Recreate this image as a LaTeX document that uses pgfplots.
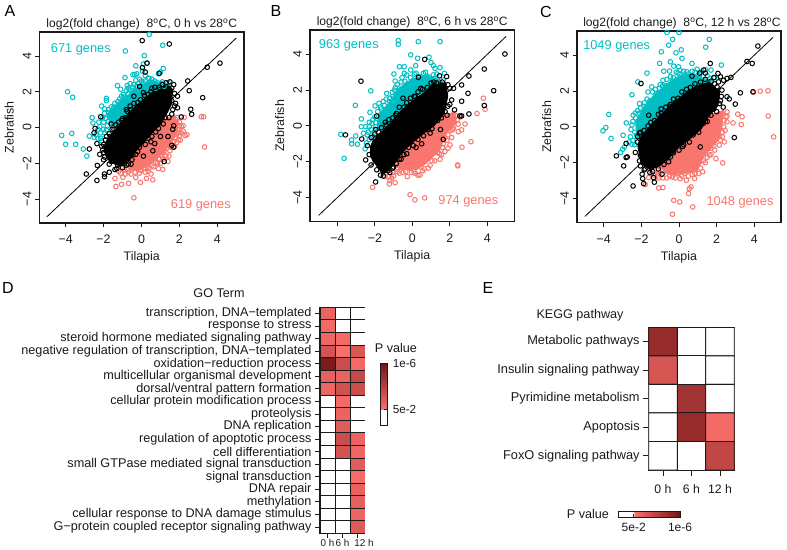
\documentclass[border=0pt]{standalone}
\usepackage{fontspec}
\setmainfont{Liberation Sans}
\usepackage{pgfplots}
\pgfplotsset{compat=1.18}
\definecolor{teal2}{HTML}{00BFC4}
\definecolor{salm}{HTML}{F8766D}
\definecolor{salm2}{HTML}{FA6E6A}
\definecolor{ink}{HTML}{1A1A1A}
\tikzset{gt/.style={font=\fontsize{12.8}{14}\selectfont},
  tx/.style={font=\fontsize{12.6}{14}\selectfont,text=ink},
  pl/.style={font=\fontsize{16}{18}\selectfont,text=black}}
\pgfplotsset{
  fc/.style={
    scale only axis, axis line style={ink,line width=1.1pt},
    tick style={ink,line width=0.9pt}, tick align=outside, major tick length=4.5pt,
    xtick={-4,-2,0,2,4}, ytick={-4,-2,0,2,4},
    xticklabels={−4,−2,0,2,4}, yticklabels={−4,−2,0,2,4},
    xtick pos=bottom, ytick pos=left,
    tick label style={font=\fontsize{12.4}{14}\selectfont,text=ink},
    xticklabel style={yshift=-4pt},
    yticklabel style={rotate=90,anchor=south,yshift=0pt},
    xlabel=Tilapia, ylabel=Zebrafish,
    label style={font=\fontsize{12.4}{14}\selectfont,text=ink},
    xlabel style={yshift=-1pt}, ylabel style={yshift=2pt},
    title style={font=\fontsize{12.1}{14}\selectfont,text=ink,yshift=-7.5pt},
    clip=true,
  },
  tm/.style={only marks,mark=o,mark size=2.3pt,mark options={line width=1pt},color=teal2},
  sm/.style={only marks,mark=o,mark size=2.3pt,mark options={line width=1pt},color=salm},
  bm/.style={only marks,mark=o,mark size=2.3pt,mark options={line width=1pt},color=black},
  core/.style={line width=3pt,line join=round},
  hm/.style={
    scale only axis, axis line style={ink,line width=1pt},
    tick style={ink,line width=0.9pt}, tick align=outside,
    xtick pos=bottom, ytick pos=left, y dir=reverse,
    xtick={0,1,2},
    xmin=-0.5, xmax=2.5,
    point meta min=0, point meta max=1, colormap name=pval,
    tick label style={text=ink},
  },
  colormap={pval}{[1cm] color(0cm)=(white); color(25cm)=(white); color(26cm)=(salm2); rgb255(100cm)=(115,20,22)},
}
\begin{document}
\begin{tikzpicture}[x=1pt,y=1pt]
\path[use as bounding box] (0,0) rectangle (787,549);

% panel A
\begin{axis}[fc, at={(39.5pt,326pt)}, anchor=south west, width=204.5pt, height=191pt,
  xmin=-5.38, xmax=5.41, ymin=-5.34, ymax=5.34,
  title={log2(fold change)\ \ 8\textsuperscript{o}C, 0 h vs 28\textsuperscript{o}C}]
\addplot[fill=teal2,draw=teal2] coordinates {(-1.57,0.14)(-1.84,0.7)(-1.31,1.26)(-0.69,1.82)(-0.08,2.38)(0.62,2.66)(1.15,2.38)(1.3,1.5)(0,0)} --cycle;
\addplot[fill=salm,draw=salm] coordinates {(1.77,0.7)(1.94,-0.05)(1.68,-0.7)(1.15,-1.45)(0.54,-2.0)(-0.08,-2.38)(-0.61,-2.38)(-0.69,-1.82)(0,0)} --cycle;
\addplot[tm] coordinates {(-4.21,-0.44)(-3.68,-0.33)(-4.0,-0.94)(-3.47,-0.94)(-3.07,-1.2)(-2.88,-1.6)(-2.75,-0.48)(-2.5,-0.55)(-2.6,0.55)(-2.56,0.25)(-3.9,2.0)(-3.63,1.69)(-2.1,1.2)(-1.95,1.05)(-1.85,1.63)(-1.85,1.5)(-1.75,1.0)(-1.27,2.34)(-1.1,2.14)(-0.87,2.79)(-0.85,4.28)(0.41,5.2)(1.12,4.6)(0.15,4.02)(0.1,3.55)(0.3,3.6)(-0.3,3.45)(-0.45,2.95)(-0.35,2.95)(-0.25,3.0)(0.05,3.15)(0.2,2.9)(0.4,2.75)(0.55,2.7)(1.0,3.1)(1.15,3.3)(0.9,3.0)(-0.7,2.2)(-0.6,2.45)(-0.4,2.4)(-0.3,2.65)(-0.1,2.7)(0.1,2.5)(0.3,2.35)(0.6,2.4)(0.75,2.2)(1.1,2.55)(1.4,2.5)(1.2,2.3)(-2.3,-0.1)(-2.2,0.05)(-2.4,-0.4)(-2.15,-0.3)(-1.9,0.5)(-1.7,0.7)(-1.5,0.9)(-1.3,1.1)(-1.6,0.3)(-1.0,1.5)(-0.9,1.7)(-0.7,1.9)(-0.5,2.0)(-1.2,1.3)(-2.0,0.3)(-2.0,-0.1)(-1.8,0.1)(-2.3,-0.6)(-1.45,1.15)(-1.05,1.75)(-0.8,2.05)(-0.15,2.45)(0.45,2.55)(0.85,2.5)
(-2.25,0.3)(-2.05,0.55)(-1.95,0.8)(-1.75,0.85)(-1.6,1.15)(-1.5,1.05)(-1.4,1.35)(-1.25,1.45)(-1.15,1.6)(-1.0,1.35)(-0.95,1.85)(-0.85,1.6)(-0.75,2.35)(-0.6,2.1)(-0.55,1.75)(-0.45,2.25)(-0.35,2.1)(-0.25,2.3)(-0.15,2.1)(0,2.6)(0.2,2.6)(0.25,2.2)(0.35,2.75)(0.5,2.35)(0.7,2.6)(0.95,2.3)(1.05,2.45)(-2.15,-0.6)(-1.95,-0.3)(-1.85,-0.15)(-1.75,0.35)(-1.55,0.55)(-2.1,-0.75)};
\addplot[sm] coordinates {(-1.4,-2.85)(-1.35,-3.3)(-1.05,-3.18)(-0.68,-3.12)(-0.4,-3.93)(-0.98,-2.79)(-0.05,-3.07)(0.26,-2.85)(0.6,-2.93)(1.12,-2.34)(3.33,-1.09)(3.16,0.6)(3.28,0.6)(2.26,0.57)(2.3,-0.45)(2.05,-0.7)(2.1,-0.3)(-0.55,-2.6)(-0.3,-2.8)(-0.1,-2.55)(0.2,-2.5)(0.4,-2.3)(0.65,-2.2)(-0.75,-2.35)(-0.5,-2.35)(0.85,-2.0)(1.1,-1.8)(1.3,-1.6)(1.5,-1.3)(1.75,-1.05)(1.95,-0.7)(1.85,-0.4)(2.2,0.1)(1.7,-0.8)(1.4,-1.9)(2.0,0.3)(1.9,0.55)(0.0,-2.2)(0.5,-2.6)(0.9,-2.3)(1.2,-1.3)(-1.1,-2.55)(2.4,-0.4)(-0.85,-2.6)(-0.2,-2.3)(0.3,-2.2)(0.75,-1.95)(1.0,-2.0)(1.55,-0.95)(1.9,-0.1)(2.0,-0.45)(1.45,-1.6)
(2.0,0.1)(1.85,0.25)(1.8,0.45)(2.1,0.05)(2.2,-0.2)(1.95,-0.3)(1.8,-0.55)(1.6,-0.6)(1.85,-0.85)(1.55,-1.1)(1.35,-1.15)(1.25,-1.55)(1.0,-1.55)(0.95,-1.75)(0.7,-1.75)(0.55,-2.15)(0.35,-2.45)(0.15,-2.25)(-0.05,-2.4)(-0.35,-2.5)(-0.6,-2.2)(-0.7,-2.5)(-0.9,-2.35)(-1.0,-2.25)(-1.2,-2.45)};
\addplot[fill=black,draw=black,core] coordinates {(-1.93,-1.07)(-1.75,-0.7)(-1.49,-0.33)(-1.05,0.14)(-0.69,0.7)(-0.25,1.17)(0.27,1.63)(0.8,2.1)(1.33,2.38)(1.59,2.1)(1.54,1.35)(1.33,0.89)(0.98,0.23)(0.54,-0.23)(0.1,-0.79)(-0.34,-1.26)(-0.69,-1.82)(-1.13,-2.1)(-1.57,-1.91)(-1.84,-1.54)} --cycle;
\addplot[bm] coordinates {(0.04,4.86)(1.47,4.67)(4.14,3.6)(3.47,3.37)(0.29,3.6)(0.94,3.03)(2.44,2.6)(2.52,2.06)(3.23,1.67)(2.6,1.02)(2.65,0.74)(2.1,0.59)(-2.91,-2.6)(-2.35,-2.96)(-2.33,-2.12)(-2.75,-1.2)(-1.95,-2.75)(-1.7,-2.5)(-1.95,-2.6)(-1.4,-2.35)(-2.2,-1.5)(-2.0,-1.8)(-2.1,-1.05)(-2.35,-0.9)(-2.5,-0.3)(-2.45,-0.05)(-2.15,0.6)(-1.6,0.2)(-1.2,0.3)(-0.6,1.2)(-0.4,1.75)(-0.1,2.3)(0.05,3.35)(0.2,3.1)(0.1,1.95)(0.5,2.0)(1.7,2.4)(1.6,2.2)(1.75,1.9)(1.8,1.35)(1.9,1.1)(1.6,1.5)(1.65,1.0)(1.7,0.1)(1.65,-0.1)(1.6,-1.0)(1.7,-1.1)(1.0,-0.5)(0.5,-0.8)(0.6,-1.3)(0.1,-1.6)(-0.3,-1.5)(1.2,-1.9)(-0.8,-2.1)(-0.55,-2.05)(-0.9,-2.0)(-1.5,-1.5)(-1.85,-1.3)(-1.6,-1.9)(-1.3,-2.3)(0.7,-0.9)(1.4,-0.5)(-2.0,-1.4)(-1.9,-0.7)(-1.65,-0.5)(-1.45,-0.1)(-1.0,0.5)(-0.8,1.0)(1.0,1.7)(1.3,2.5)(1.5,2.55)(1.9,1.75)
(-1.85,-0.5)(-1.7,-0.35)(-1.55,-0.1)(-1.35,0.15)(-1.2,0.05)(-1.05,0.4)(-0.85,0.55)(-0.75,0.9)(-0.55,1.0)(-0.4,1.35)(-0.2,1.4)(-0.05,1.55)(0.15,1.8)(0.35,1.85)(0.55,2.2)(0.7,2.25)(0.95,2.25)(1.1,2.4)(1.75,1.2)(1.6,0.75)(1.45,0.55)(1.25,0.55)(1.15,0.2)(0.9,-0.05)(0.75,-0.25)(0.55,-0.5)(0.35,-0.6)(0.2,-0.95)(-0.1,-1.1)(-0.2,-1.35)(-0.45,-1.5)(-0.5,-1.8)(-0.7,-2.05)(-1.0,-2.25)(-1.25,-2.1)(-1.7,-2.05)(-1.95,-1.65)(-2.05,-1.25)(-2.0,-0.95)};
\addplot[black,line width=0.8pt] coordinates {(-5,-5)(5,5)};
\node[gt,text=teal2] at (axis cs:-3.2,4.39) {671 genes};
\node[gt,text=salm] at (axis cs:3.13,-4.37) {619 genes};
\end{axis}

% panel B
\begin{axis}[fc, at={(310pt,327.3pt)}, anchor=south west, width=204.3pt, height=191.7pt,
  xmin=-5.46, xmax=5.44, ymin=-5.35, ymax=5.36,
  title={log2(fold change)\ \ 8\textsuperscript{o}C, 6 h vs 28\textsuperscript{o}C}]
\addplot[fill=teal2,draw=teal2] coordinates {(-1.9,-0.22)(-1.81,0.61)(-1.28,1.27)(-0.75,2.1)(-0.12,2.57)(0.76,2.85)(1.48,2.57)(1.3,1.5)(0,0)} --cycle;
\addplot[fill=salm,draw=salm] coordinates {(2.28,0.8)(2.36,0.15)(1.83,-0.41)(1.48,-1.34)(0.76,-2.09)(0.23,-2.46)(-0.57,-2.46)(-0.92,-2.18)(0,0)} --cycle;
\addplot[tm] coordinates {(-0.75,4.77)(-0.75,4.56)(0.32,4.71)(1.48,4.71)(-0.09,3.97)(0.28,3.78)(0.89,3.84)(1.0,3.54)(1.12,3.37)(1.21,3.22)(1.48,3.26)(1.71,2.94)(-0.69,3.31)(-0.43,3.31)(-0.09,3.13)(0.18,3.37)(-0.98,2.9)(-0.92,2.51)(-0.43,2.94)(-2.22,1.96)(-3.04,1.15)(-2.72,0.39)(-2.72,-0.04)(-2.26,0.76)(-3.82,-0.47)(-3.02,-0.56)(-3.24,-0.78)(-3.24,-1.0)(-2.93,-1.02)(-3.64,-1.81)(-2.52,-1.28)(-2.6,-0.41)(-2.49,-0.04)(-1.99,1.12)(-1.78,1.27)(-1.55,1.36)(-1.37,1.82)(-1.07,1.88)(0.59,2.94)(1.12,2.85)(1.65,2.57)(-2.3,0.2)(-2.4,-0.5)(-2.0,0.5)(-2.2,-0.2)(-2.45,-0.95)(-2.1,-0.6)(-2.15,0.15)(-1.65,0.95)(-1.2,1.55)(-0.9,2.15)(-0.6,2.45)(-0.3,2.85)(0.1,2.9)(0.4,2.75)(0.85,2.75)(1.3,2.9)
(-2.3,-0.05)(-2.1,0.35)(-1.95,0.2)(-1.85,0.8)(-1.7,1.05)(-1.5,1.15)(-1.4,1.5)(-1.2,1.35)(-1.05,1.65)(-0.95,2.0)(-0.8,2.3)(-0.7,1.95)(-0.55,2.7)(-0.4,2.5)(-0.25,2.35)(-0.1,2.7)(0.05,2.55)(0.2,2.95)(0.35,2.6)(0.55,2.7)(0.7,3.0)(0.95,2.6)(1.15,2.65)(1.35,2.5)(-2.3,-0.75)(-2.05,-0.35)(-1.95,-0.05)(-2.35,-0.35)};
\addplot[sm] coordinates {(-2.12,-3.43)(-0.12,-3.84)(0.14,-4.13)(0.66,-4.02)(2.42,-2.18)(2.42,-2.23)(2.65,-1.19)(3.13,-0.88)(3.45,0.69)(3.79,1.55)(3.88,0.93)(-1.46,-2.83)(-1.28,-2.83)(-1.23,-3.24)(-0.92,-3.17)(-1.1,-2.92)(-0.27,-2.83)(0.41,-2.74)(-0.69,-2.64)(0.09,-2.55)(1.48,-1.86)(1.74,-1.43)(2.01,-1.06)(2.45,-0.32)(2.81,0.11)(2.63,-0.22)(2.1,-0.65)(2.2,0.25)(1.65,-1.0)(1.2,-1.95)(0.95,-2.2)(0.65,-2.4)(0.3,-2.75)(-0.05,-2.6)(-0.5,-2.6)(-1.05,-2.6)(-0.85,-2.4)(1.9,-1.25)(2.15,-0.2)(2.4,0.35)(2.55,0.5)(-1.2,-3.05)(1.85,-0.8)(1.45,-1.55)
(2.35,0.55)(2.3,0.6)(2.45,0.1)(2.2,-0.1)(2.05,-0.25)(1.9,-0.5)(1.75,-0.65)(1.6,-1.2)(1.55,-1.6)(1.35,-1.5)(1.05,-1.95)(0.85,-2.35)(0.55,-2.5)(0.45,-2.3)(0.15,-2.65)(-0.15,-2.35)(-0.35,-2.55)(-0.65,-2.3)(-0.8,-2.55)(-1.0,-2.8)};
\addplot[fill=black,draw=black,core] coordinates {(-2.17,-1.15)(-1.99,-0.69)(-1.55,-0.32)(-1.1,0.15)(-0.57,0.8)(0.05,1.36)(0.68,1.82)(1.12,2.29)(1.74,2.38)(1.83,1.64)(1.65,0.71)(1.12,0.06)(0.41,-0.5)(-0.12,-0.97)(-0.66,-1.53)(-1.01,-2.09)(-1.55,-2.64)(-1.81,-2.27)(-2.17,-1.71)} --cycle;
\addplot[bm] coordinates {(4.94,4.02)(3.84,3.18)(3.02,2.79)(2.63,2.29)(4.34,1.97)(2.97,1.82)(2.63,1.38)(3.84,1.14)(3.02,0.67)(2.54,0.56)(2.63,0.56)(0.66,3.72)(-2.74,2.5)(0.32,2.72)(-3.57,-0.5)(-1.96,-3.13)(-2.49,-1.9)(-2.7,-0.73)(-2.2,-2.18)(1.83,2.76)(1.45,2.8)(2.0,2.1)(2.2,2.1)(1.9,2.3)(1.7,1.9)(2.1,1.45)(2.0,1.2)(2.25,0.9)(1.85,0.6)(1.5,-0.2)(1.65,-0.75)(0.5,-1.0)(0.2,-1.2)(-0.3,-1.55)(0.95,-0.4)(-2.3,-1.6)(-2.4,-1.1)(-2.2,-0.65)(-1.95,-0.2)(-1.9,0.55)(-1.45,0.2)(-0.9,0.6)(-0.5,1.55)(0.1,1.65)(0.45,2.1)(-1.7,-2.75)(-1.3,-2.5)(-0.7,-1.85)(-1.0,-2.3)(-2.0,-1.9)(-2.1,-1.35)(1.3,2.4)(1.6,2.45)
(-2.0,-0.45)(-1.8,-0.35)(-1.65,-0.1)(-1.4,0.05)(-1.25,0.35)(-1.05,0.45)(-0.85,0.7)(-0.7,1.05)(-0.45,1.05)(-0.3,1.3)(-0.1,1.55)(0.15,1.65)(0.3,1.9)(0.55,2.05)(0.8,2.15)(1.0,2.4)(1.15,2.45)(1.9,1.1)(1.75,0.8)(1.55,0.45)(1.35,0.3)(1.05,-0.15)(0.85,-0.2)(0.6,-0.55)(0.3,-0.75)(0.05,-1.1)(-0.2,-1.2)(-0.45,-1.6)(-0.6,-1.85)(-0.85,-2.1)(-1.05,-2.35)(-1.2,-2.6)(-1.55,-2.8)(-1.9,-2.45)};
\addplot[black,line width=0.8pt] coordinates {(-5,-5)(5,5)};
\node[gt,text=teal2] at (axis cs:-3.39,4.52) {963 genes};
\node[gt,text=salm] at (axis cs:2.99,-4.23) {974 genes};
\end{axis}

% panel C
\begin{axis}[fc, at={(577pt,326.3pt)}, anchor=south west, width=204pt, height=191.7pt,
  xmin=-5.42, xmax=5.42, ymin=-5.35, ymax=5.35,
  title={log2(fold change)\ \ 8\textsuperscript{o}C, 12 h vs 28\textsuperscript{o}C},
  title style={xshift=3pt}]
\addplot[fill=teal2,draw=teal2] coordinates {(-2.23,-0.74)(-2.32,0.28)(-1.88,1.12)(-1.35,1.77)(-0.64,2.42)(0.07,2.89)(0.78,2.98)(1.31,2.7)(1.75,2.6)(1.3,1.5)(0,0)} --cycle;
\addplot[fill=salm,draw=salm] coordinates {(2.37,0.93)(2.28,-0.09)(2.02,-0.84)(1.31,-1.68)(0.96,-2.51)(-0.28,-2.7)(-0.73,-2.6)(-1.0,-2.2)(0,0)} --cycle;
\addplot[tm] coordinates {(-0.64,5.27)(0,5.27)(-0.34,4.88)(-0.55,4.56)(1.61,4.88)(1.42,4.45)(0.12,4.3)(-0.16,4.13)(-0.94,4.19)(0.16,3.82)(-1.03,3.54)(-0.46,3.63)(-0.28,3.39)(0.69,3.54)(2.25,3.45)(-0.81,3.11)(-0.5,3.11)(-1.7,3.0)(-2.19,2.51)(-2.5,1.79)(-3.73,0.69)(-3.89,-0.04)(-4.04,-0.22)(-3.61,-0.65)(-2.97,-0.47)(-2.8,0.22)(-2.9,-1.12)(-2.99,-1.25)(-3.1,-1.43)(-2.44,0.65)(-2.32,0.78)(-1.84,1.34)(-1.45,2.23)(-0.87,2.29)(-0.02,3.35)(0.04,3.15)(0.42,3.07)(0.96,3.22)(1.4,3.2)(1.7,3.17)(-2.5,-0.97)(-2.58,-0.56)(-2.5,0.1)(-2.1,1.3)(-1.65,1.95)(-1.25,2.1)(-1.0,2.35)(-0.65,2.65)(-0.3,2.75)(-0.05,3.0)(0.3,2.9)(0.7,3.1)(1.15,3.05)(1.9,2.75)(-2.35,-0.3)(-2.65,-0.85)(-2.2,0.9)
(-2.55,-0.15)(-2.45,0.3)(-2.3,0.5)(-2.1,0.75)(-2.05,1.05)(-1.85,1.15)(-1.7,1.55)(-1.55,1.45)(-1.4,1.95)(-1.2,1.85)(-1.05,2.15)(-0.85,2.6)(-0.7,2.3)(-0.45,2.8)(-0.35,2.55)(-0.15,3.05)(0.05,2.95)(0.25,3.1)(0.5,2.95)(0.85,3.05)(1.1,2.9)(1.5,2.85)(1.65,2.7)(-2.45,-0.75)(-2.35,-1.0)(-2.25,-0.45)};
\addplot[sm] coordinates {(-1.79,-3.22)(-1.08,-3.41)(-0.85,-3.39)(-1.61,-2.83)(-1.08,-2.85)(-0.28,-4.1)(0.04,-4.19)(-0.35,-4.88)(0.73,-4.47)(0.51,-3.72)(0.64,-3.35)(0.55,-3.45)(0.39,-2.98)(0.07,-2.89)(0.83,-2.89)(1.26,-2.51)(2.32,-2.01)(1.96,-1.77)(4.32,1.99)(4.73,2.01)(3.96,1.92)(4.74,0.6)(5.03,-0.56)(3.12,0.71)(3.35,0.56)(3.31,0.13)(2.87,0.22)(2.55,0.84)(2.41,-0.84)(2.14,-1.02)(1.61,-1.58)(2.37,0.0)(2.55,0.28)(1.9,-1.3)(1.3,-1.9)(1.05,-2.6)(0.7,-2.65)(0.3,-2.6)(-0.2,-2.85)(-0.5,-2.75)(-0.85,-2.85)(-1.3,-2.7)(-1.1,-2.45)(2.3,-0.55)(2.05,-0.6)(1.7,-1.2)(2.5,0.55)(2.3,0.75)
(2.55,0.6)(2.4,0.35)(2.45,-0.2)(2.3,-0.3)(2.2,-0.75)(2.15,-0.5)(1.85,-1.05)(1.7,-1.55)(1.5,-1.7)(1.4,-2.0)(1.15,-2.3)(1.1,-1.95)(0.85,-2.6)(0.5,-2.75)(0.15,-2.75)(-0.05,-2.6)(-0.35,-2.8)(-0.65,-2.85)(-1.0,-2.55)(-1.15,-2.75)(-1.45,-2.6)};
\addplot[fill=black,draw=black,core] coordinates {(-2.14,-1.02)(-1.96,-0.56)(-1.43,0.09)(-0.81,0.74)(-0.28,1.3)(0.42,1.86)(0.96,2.23)(1.58,2.42)(2.1,1.96)(2.02,1.21)(1.49,0.56)(1.13,-0.09)(0.51,-0.65)(-0.11,-1.12)(-0.55,-1.68)(-1.08,-2.14)(-1.52,-2.33)(-1.96,-2.05)} --cycle;
\addplot[bm] coordinates {(4.19,4.51)(3.61,3.65)(3.89,3.54)(1.66,3.54)(2.94,-0.6)(3.26,1.9)(2.99,1.27)(3.93,1.96)(2.67,1.56)(2.76,2.76)(2.07,2.98)(-2.02,2.42)(-2.81,-0.93)(-3.33,-1.62)(-2.75,-1.68)(-2.81,-1.71)(-2.94,-2.18)(-2.44,-3.3)(-1.96,-2.64)(-1.93,-2.89)(-1.88,-3.17)(-1.35,-2.83)(-1.31,-3.09)(-0.9,-2.64)(-2.32,-1.43)(-2.05,-2.18)(-1.61,0.65)(-0.46,1.25)(0.69,2.83)(1.31,3.17)(1.13,-1.12)(-0.46,-1.68)(2.1,2.51)(2.37,2.6)(2.55,2.7)(2.02,2.23)(2.28,2.05)(2.55,1.68)(1.85,2.75)(2.2,1.45)(2.35,1.1)(2.0,0.85)(1.4,3.0)(1.1,3.0)(-2.2,-0.85)(-2.05,-1.6)(-1.85,-2.4)(-1.55,-2.55)(-1.65,-0.35)(-0.95,1.0)(-0.3,-1.45)(0.2,-1.1)(1.4,0.3)(2.2,2.8)(1.9,2.4)(-2.1,-0.35)
(-2.2,-0.55)(-2.05,-0.3)(-1.85,-0.2)(-1.65,0.05)(-1.5,0.25)(-1.3,0.35)(-1.1,0.7)(-0.95,0.75)(-0.7,1.1)(-0.5,1.15)(-0.3,1.55)(-0.05,1.6)(0.15,1.95)(0.4,2.1)(0.6,2.2)(0.85,2.4)(1.15,2.5)(1.4,2.65)(1.7,2.55)(2.25,1.7)(2.15,1.3)(1.85,1.0)(1.7,0.65)(1.5,0.3)(1.3,0.2)(1.05,-0.3)(0.75,-0.45)(0.55,-0.85)(0.25,-1.0)(0.0,-1.3)(-0.3,-1.35)(-0.55,-1.95)(-0.8,-2.1)(-1.1,-2.35)(-1.4,-2.5)(-1.8,-2.35)(-2.1,-1.9)};
\addplot[black,line width=0.8pt] coordinates {(-5,-5)(5,5)};
\node[gt,text=teal2] at (axis cs:-3.31,4.5) {1049 genes};
\node[gt,text=salm] at (axis cs:3.24,-4.22) {1048 genes};
\end{axis}

% panel D
\begin{axis}[hm, at={(320pt,15.7pt)}, anchor=south west, width=45pt, height=226pt,
  ymin=-0.5, ymax=17.5, ytick={0,...,17},
  major tick length=5pt,
  xticklabels={0 h\hspace{11pt},6 h,\hspace{13pt}12 h},
  yticklabels={transcription{,} DNA−templated,response to stress,steroid hormone mediated signaling pathway,negative regulation of transcription{,} DNA−templated,oxidation−reduction process,multicellular organismal development,dorsal/ventral pattern formation,cellular protein modification process,proteolysis,DNA replication,regulation of apoptotic process,cell differentiation,small GTPase mediated signal transduction,signal transduction,DNA repair,methylation,cellular response to DNA damage stimulus,G−protein coupled receptor signaling pathway},
  yticklabel style={font=\fontsize{12.65}{14}\selectfont},
  xticklabel style={font=\fontsize{9.9}{12}\selectfont,yshift=2.5pt},
  colorbar, colorbar style={at={(1.349,0.752)},anchor=north west,width=6.6pt,height=61.7pt,
    ytick={0.25,1},yticklabels={5e-2,1e-6},axis line style={ink,line width=0.9pt},
    ytick pos=right, major tick length=3pt,
    yticklabel style={font=\fontsize{11.7}{13}\selectfont,xshift=2pt}}]
\addplot[matrix plot*,draw=ink,line width=0.9pt,mesh/cols=3,point meta=explicit] table[meta=c] {
x y c
0 0 0.34
1 0 0
2 0 0
0 1 0.30
1 1 0
2 1 0
0 2 0.32
1 2 0.30
2 2 0
0 3 0.475
1 3 0.26
2 3 0.44
0 4 0.95
1 4 0.53
2 4 0.30
0 5 0.37
1 5 0.34
2 5 0.55
0 6 0.325
1 6 0.49
2 6 0.53
0 7 0
1 7 0.29
2 7 0
0 8 0
1 8 0.34
2 8 0
0 9 0
1 9 0.41
2 9 0
0 10 0
1 10 0.53
2 10 0.34
0 11 0
1 11 0.48
2 11 0.32
0 12 0
1 12 0
2 12 0.40
0 13 0
1 13 0
2 13 0.28
0 14 0
1 14 0
2 14 0.36
0 15 0
1 15 0
2 15 0.37
0 16 0
1 16 0
2 16 0.325
0 17 0
1 17 0
2 17 0.42
};
\end{axis}
\node[tx] at (219,549-293) {GO Term};
\node[tx] at (396,549-347.7) {P value};

% panel E
\begin{axis}[hm, at={(648.7pt,79pt)}, anchor=south west, width=85.6pt, height=142.7pt,
  ymin=-0.5, ymax=4.5, ytick={0,...,4},
  major tick length=5.5pt,
  xticklabels={0 h,6 h,12 h},
  yticklabels={Metabolic pathways,Insulin signaling pathway,Pyrimidine metabolism,Apoptosis,FoxO signaling pathway},
  yticklabel style={font=\fontsize{12.8}{14}\selectfont},
  xticklabel style={font=\fontsize{12.3}{14}\selectfont,yshift=-6pt},
  colorbar horizontal, colorbar style={at={(-0.355,-0.334)},anchor=south west,width=61.7pt,height=6pt,
    xtick={0.25,1},xticklabels={5e-2,1e-6},axis line style={ink,line width=0.9pt},
    xtick pos=bottom, major tick length=3.5pt, ytick=\empty,
    xticklabel style={font=\fontsize{12}{14}\selectfont,yshift=-2pt}}]
\addplot[matrix plot*,draw=ink,line width=0.9pt,mesh/cols=3,point meta=explicit] table[meta=c] {
x y c
0 0 0.81
1 0 0
2 0 0
0 1 0.46
1 1 0
2 1 0
0 2 0
1 2 0.74
2 2 0
0 3 0
1 3 0.81
2 3 0.30
0 4 0
1 4 0
2 4 0.58
};
\end{axis}
\node[tx] at (580,549-315.5) {KEGG pathway};
\node[tx] at (588,549-514) {P value};

% panel letters
\node[pl] at (10,549-11.5) {A};
\node[pl] at (276,549-11.5) {B};
\node[pl] at (546,549-11.5) {C};
\node[pl] at (8,549-288) {D};
\node[pl] at (488,549-288) {E};
\end{tikzpicture}
\end{document}
